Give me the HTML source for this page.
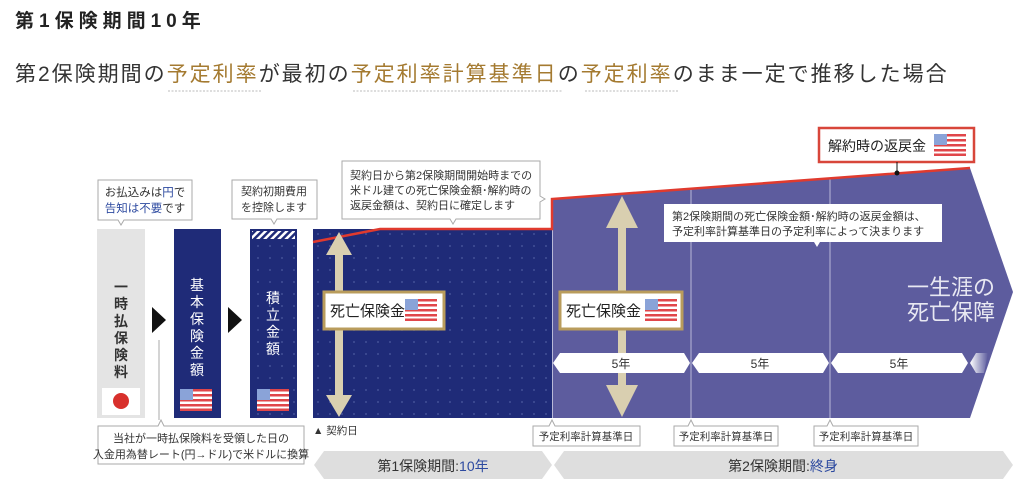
<!DOCTYPE html>
<html><head><meta charset="utf-8"><style>
html,body{margin:0;padding:0;background:#fff;width:1024px;height:499px;overflow:hidden}
svg{display:block}
text{font-family:"Liberation Sans","Noto Sans CJK JP",sans-serif}
</style></head><body>
<svg width="1024" height="499" viewBox="0 0 1024 499" xmlns="http://www.w3.org/2000/svg">
<defs>
<pattern id="dots" width="12" height="12" patternUnits="userSpaceOnUse">
<rect width="12" height="12" fill="#1f2b78"/><circle cx="6" cy="6" r="0.9" fill="#4d5aa0"/>
</pattern>
<pattern id="hatch" width="5" height="5" patternUnits="userSpaceOnUse" patternTransform="rotate(45)">
<rect width="5" height="5" fill="#1f2b78"/><rect width="2.5" height="5" fill="#fff"/>
</pattern>
<linearGradient id="fade" x1="0" x2="1"><stop offset="0" stop-color="#fff"/><stop offset="1" stop-color="#fff" stop-opacity="0"/></linearGradient>
<g id="flag"><rect width="32" height="22" fill="#fff"/>
<rect y="0" width="32" height="2.5" fill="#e0464a"/><rect y="5" width="32" height="2.5" fill="#e0464a"/><rect y="10" width="32" height="2.5" fill="#e0464a"/><rect y="15" width="32" height="2.5" fill="#e0464a"/><rect y="19.5" width="32" height="2.5" fill="#e0464a"/>
<rect width="13" height="11" fill="#8aa3d8"/></g>
</defs>

<!-- header text -->
<text x="15" y="27" font-size="19" font-weight="bold" fill="#222" letter-spacing="5">第1保険期間10年</text>
<text x="15" y="81" font-size="21" fill="#333" letter-spacing="2">第2保険期間の<tspan fill="#a47a30">予定利率</tspan>が最初の<tspan fill="#a47a30">予定利率計算基準日</tspan>の<tspan fill="#a47a30">予定利率</tspan>のまま一定で推移した場合</text>
<g stroke="#bbb" stroke-dasharray="2 1.5" stroke-width="1">
<line x1="168" y1="91" x2="262" y2="91"/><line x1="353" y1="91" x2="562" y2="91"/><line x1="585" y1="91" x2="678" y2="91"/>
</g>

<!-- left column -->
<rect x="97" y="229" width="48" height="189" fill="#e4e4e4"/>
<rect x="102" y="388" width="38" height="27" fill="#fff"/><circle cx="121" cy="401" r="8" fill="#d8302c"/>
<text font-size="14" fill="#333" font-weight="bold" text-anchor="middle"><tspan x="121" y="292">一</tspan><tspan x="121" y="309">時</tspan><tspan x="121" y="326">払</tspan><tspan x="121" y="343">保</tspan><tspan x="121" y="360">険</tspan><tspan x="121" y="377">料</tspan></text>
<polygon points="152,307 166,320 152,333" fill="#111"/>
<rect x="174" y="229" width="47" height="189" fill="#1f2b78"/>
<text font-size="14" fill="#fff" text-anchor="middle"><tspan x="197" y="290">基</tspan><tspan x="197" y="307">本</tspan><tspan x="197" y="324">保</tspan><tspan x="197" y="341">険</tspan><tspan x="197" y="358">金</tspan><tspan x="197" y="375">額</tspan></text>
<use href="#flag" x="180" y="389"/>
<polygon points="228,307 242,320 228,333" fill="#111"/>
<rect x="250" y="229" width="47" height="189" fill="url(#dots)"/>
<rect x="252" y="231" width="43" height="8" fill="url(#hatch)"/>
<text font-size="14" fill="#fff" text-anchor="middle"><tspan x="273" y="303">積</tspan><tspan x="273" y="320">立</tspan><tspan x="273" y="337">金</tspan><tspan x="273" y="354">額</tspan></text>
<use href="#flag" x="257" y="389"/>

<!-- main areas -->
<rect x="313" y="229" width="239" height="189" fill="url(#dots)"/>
<polygon points="552,199 970,168 1013,292 970,418 552,418" fill="#5d5c9e"/>
<line x1="552.5" y1="199" x2="552.5" y2="418" stroke="#b9b9d8" stroke-width="1"/>
<line x1="691" y1="188" x2="691" y2="418" stroke="#b9b9d8" stroke-width="1"/>
<line x1="830" y1="178" x2="830" y2="418" stroke="#b9b9d8" stroke-width="1"/>
<polyline points="313,242 380,229 552,229 552,199 970,168" fill="none" stroke="#e03a2e" stroke-width="2.5"/>

<!-- arrows -->
<g fill="#d9cfb0">
<polygon points="339,232 352,255 343,255 343,395 352,395 339,417 326,395 335,395 335,255 326,255"/>
<polygon points="622,196 638,228 626,228 626,385 638,385 622,417 606,385 618,385 618,228 606,228"/>
</g>

<!-- 5 year banners -->
<g fill="#fff">
<polygon points="553,363 560,353 684,353 690,363 684,373 560,373"/>
<polygon points="692,363 699,353 823,353 829,363 823,373 699,373"/>
<polygon points="831,363 838,353 962,353 968,363 962,373 838,373"/>
<polygon points="970,363 976,353 988,353 984,373 976,373" fill="url(#fade)"/>
</g>
<text font-size="12" fill="#333" text-anchor="middle"><tspan x="621" y="368">5年</tspan><tspan x="760" y="368">5年</tspan><tspan x="899" y="368">5年</tspan></text>

<rect x="324" y="292" width="120" height="37" fill="#fff" stroke="#b99c5c" stroke-width="3"/>
<text x="330" y="316" font-size="15" fill="#222">死亡保険金</text>
<use href="#flag" x="405" y="299"/>
<rect x="560" y="292" width="122" height="37" fill="#fff" stroke="#b99c5c" stroke-width="3"/>
<text x="566" y="316" font-size="15" fill="#222">死亡保険金</text>
<use href="#flag" x="645" y="299"/>

<text font-size="22" fill="#e8e8f2"><tspan x="907" y="295">一生涯の</tspan><tspan x="907" y="320">死亡保障</tspan></text>

<!-- refund box -->
<rect x="819" y="128" width="155" height="34" fill="#fff" stroke="#d8463a" stroke-width="2.5"/>
<text x="828" y="151" font-size="14" fill="#222">解約時の返戻金</text>
<use href="#flag" x="934" y="134"/>
<line x1="897" y1="162" x2="897" y2="173" stroke="#111"/><circle cx="897" cy="173" r="2.5" fill="#111"/>

<!-- balloons -->
<g fill="#fff" stroke="#aaa" stroke-width="1">
<path d="M98,180 H192 V220 H124 L121,225 L118,220 H98 Z"/>
<path d="M232,180 H317 V219 H277 L274,224 L271,219 H232 Z"/>
<path d="M342,161 H540 V196 L545,199 L540,202 V219 H456 L453,224 L450,219 H342 Z"/>
<path d="M98,426 H158 L161,420 L164,426 H304 V464 H98 Z"/>
</g>
<path d="M664,204 H942 V242 H820 L817,247 L814,242 H664 Z" fill="#fff"/>
<text font-size="11.5" fill="#333" text-anchor="middle"><tspan x="145" y="196">お払込みは<tspan fill="#2d4aa0">円</tspan>で</tspan><tspan x="145" y="212"><tspan fill="#2d4aa0">告知は不要</tspan>です</tspan></text>
<text font-size="11" fill="#333" text-anchor="middle"><tspan x="274" y="195">契約初期費用</tspan><tspan x="274" y="211">を控除します</tspan></text>
<text font-size="11" fill="#333"><tspan x="350" y="179">契約日から第2保険期間開始時までの</tspan><tspan x="350" y="194">米ドル建ての死亡保険金額･解約時の</tspan><tspan x="350" y="209">返戻金額は、契約日に確定します</tspan></text>
<text font-size="11" fill="#333"><tspan x="672" y="220">第2保険期間の死亡保険金額･解約時の返戻金額は、</tspan><tspan x="672" y="235">予定利率計算基準日の予定利率によって決まります</tspan></text>
<text font-size="11" fill="#333" text-anchor="middle"><tspan x="201" y="442">当社が一時払保険料を受領した日の</tspan><tspan x="201" y="458">入金用為替レート(円→ドル)で米ドルに換算</tspan></text>
<line x1="159" y1="340" x2="159" y2="420" stroke="#aaa"/>

<!-- base dates -->
<text x="313" y="434" font-size="10.5" fill="#333">▲ 契約日</text>
<g fill="#fff" stroke="#aaa" stroke-width="1">
<path d="M533,426 H549 L552,420 L555,426 H640 V446 H533 Z"/>
<path d="M674,426 H688 L691,420 L694,426 H778 V446 H674 Z"/>
<path d="M814,426 H827 L830,420 L833,426 H918 V446 H814 Z"/>
</g>
<text font-size="10.5" fill="#333" text-anchor="middle"><tspan x="586" y="440">予定利率計算基準日</tspan><tspan x="726" y="440">予定利率計算基準日</tspan><tspan x="866" y="440">予定利率計算基準日</tspan></text>

<!-- period banners -->
<polygon points="314,465 324,451 542,451 552,465 542,479 324,479" fill="#dedede"/>
<polygon points="554,465 564,451 1003,451 1013,465 1003,479 564,479" fill="#dedede"/>
<text x="433" y="471" font-size="14" fill="#333" text-anchor="middle">第1保険期間:<tspan fill="#2d4aa0">10年</tspan></text>
<text x="783" y="471" font-size="14" fill="#333" text-anchor="middle">第2保険期間:<tspan fill="#2d4aa0">終身</tspan></text>
</svg>
</body></html>
